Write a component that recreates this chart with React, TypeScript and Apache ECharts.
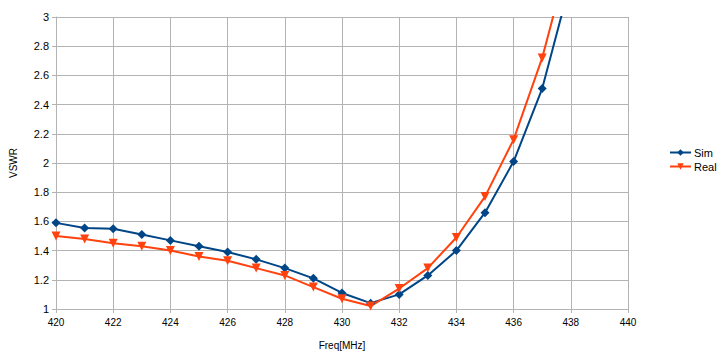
import React, { useEffect, useRef } from "react";
import * as echarts from "echarts";

const freqs = [420, 421, 422, 423, 424, 425, 426, 427, 428, 429, 430, 431, 432, 433, 434, 435, 436, 437, 438];
const simVswr = [1.59, 1.555, 1.55, 1.51, 1.47, 1.43, 1.39, 1.34, 1.28, 1.21, 1.11, 1.04, 1.1, 1.23, 1.4, 1.66, 2.01, 2.51, 3.25];
const realVswr = [1.5, 1.48, 1.45, 1.43, 1.4, 1.36, 1.33, 1.28, 1.23, 1.15, 1.07, 1.02, 1.14, 1.28, 1.49, 1.77, 2.16, 2.72, 3.46];
const seriesNames = ["Sim", "Real"];

export default function App() {
  const ref = useRef<HTMLDivElement>(null);
  useEffect(() => {
    if (!ref.current) return;
    const chart = echarts.init(ref.current, undefined, { renderer: "svg" });
    const font = "'Liberation Sans', Arial, sans-serif";
    const grey = "#b3b3b3";
    chart.setOption({
      animation: false,
      textStyle: { fontFamily: font },
      grid: { left: 56, right: 89, top: 17, bottom: 48 },
      legend: {
        orient: "vertical",
        left: 669,
        top: 147,
        padding: 0,
        itemWidth: 21,
        itemHeight: 8,
        itemGap: 3,
        textStyle: { fontFamily: font, fontSize: 11, color: "#000", padding: [0, 0, 0, -2] },
        data: seriesNames,
      },
      xAxis: {
        type: "value",
        min: 420,
        max: 440,
        interval: 2,
        name: "Freq[MHz]",
        nameLocation: "middle",
        nameGap: 31,
        nameTextStyle: { fontFamily: font, fontSize: 10, color: "#000" },
        axisLine: { show: true, lineStyle: { color: grey } },
        axisTick: { show: true, length: 4, lineStyle: { color: grey } },
        axisLabel: { color: "#000", fontSize: 10, fontFamily: font, margin: 8 },
        splitLine: { show: true, lineStyle: { color: grey } },
      },
      yAxis: {
        type: "value",
        min: 1,
        max: 3,
        interval: 0.2,
        name: "VSWR",
        nameLocation: "middle",
        nameGap: 38,
        nameRotate: 90,
        nameTextStyle: { fontFamily: font, fontSize: 10, color: "#000" },
        axisLine: { show: true, lineStyle: { color: grey } },
        axisTick: { show: true, length: 4, lineStyle: { color: grey } },
        axisLabel: {
          color: "#000",
          fontSize: 11,
          fontFamily: font,
          margin: 7,
          formatter: (v: number) => String(Math.round(v * 10) / 10),
        },
        splitLine: { show: true, lineStyle: { color: grey } },
      },
      series: [
        {
          name: seriesNames[0],
          type: "line",
          data: freqs.map((f, i) => [f, simVswr[i]]),
          symbol: "diamond",
          symbolSize: 9,
          color: "#004586",
          lineStyle: { width: 2, color: "#004586" },
          itemStyle: { color: "#004586" },
          clip: true,
        },
        {
          name: seriesNames[1],
          type: "line",
          data: freqs.map((f, i) => [f, realVswr[i]]),
          symbol: "triangle",
          symbolRotate: 180,
          symbolSize: 9,
          color: "#ff420e",
          lineStyle: { width: 2, color: "#ff420e" },
          itemStyle: { color: "#ff420e" },
          clip: true,
        },
      ],
    });
    return () => chart.dispose();
  }, []);
  return <div ref={ref} style={{ width: 717, height: 357, position: "fixed", left: 0, top: 0, background: "#fff" }} />;
}
